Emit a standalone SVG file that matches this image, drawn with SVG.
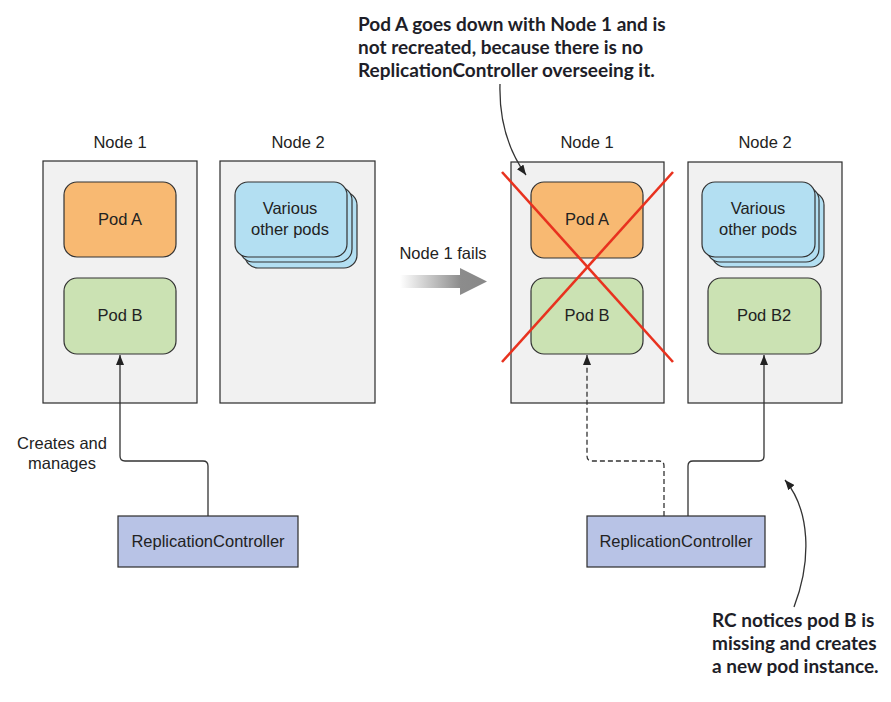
<svg xmlns="http://www.w3.org/2000/svg" width="891" height="702" viewBox="0 0 891 702">
<style>
.node{fill:#f1f1f1;stroke:#2b2b2b;stroke-width:1.2}
.podA{fill:#f8b972;stroke:#333;stroke-width:1.2}
.podB{fill:#cbe2b3;stroke:#333;stroke-width:1.2}
.var{fill:#b3dff2;stroke:#333;stroke-width:1.2}
.rc{fill:#b8c3e6;stroke:#2b2b2b;stroke-width:1.2}
.t{font-family:"Liberation Sans",Arial,sans-serif;font-size:16.5px;fill:#222;text-anchor:middle}
.b{font-family:Lato,"Open Sans",sans-serif;font-weight:bold;font-size:19px;fill:#1e1e28}
.conn{fill:none;stroke:#333;stroke-width:1.3}
.dash{stroke-dasharray:5,3}
.cross{stroke:#e8321f;stroke-width:2.6}
</style>
<defs>
<marker id="ah" markerUnits="userSpaceOnUse" markerWidth="10" markerHeight="8" refX="10" refY="4" orient="auto">
<path d="M0,0 L10,4 L0,8 z" fill="#222"/>
</marker>
<linearGradient id="fade" x1="400" y1="0" x2="487" y2="0" gradientUnits="userSpaceOnUse">
<stop offset="0" stop-color="#ffffff"/>
<stop offset="0.7" stop-color="#8c8c8c"/>
<stop offset="1" stop-color="#888888"/>
</linearGradient>
</defs>

<g id="left-node1">
<text class="t" x="120" y="148">Node 1</text>
<rect class="node" x="43" y="161" width="154" height="242"/>
</g>
<g id="left-node2">
<text class="t" x="298" y="148">Node 2</text>
<rect class="node" x="220" y="161" width="155" height="242"/>
</g>
<g id="left-podA">
<rect class="podA" x="64" y="182" width="112" height="75" rx="13"/>
<text class="t" x="120" y="225">Pod A</text>
</g>
<g id="left-podB">
<rect class="podB" x="64" y="278" width="112" height="76" rx="13"/>
<text class="t" x="120" y="321">Pod B</text>
</g>
<g id="left-various">
<rect class="var" x="245" y="192" width="112" height="76" rx="13"/>
<rect class="var" x="240" y="187" width="112" height="75" rx="13"/>
<rect class="var" x="235" y="182" width="112" height="75" rx="13"/>
<text class="t" x="290" y="214">Various</text>
<text class="t" x="290" y="235">other pods</text>
</g>
<g id="left-rc">
<rect class="rc" x="118" y="516" width="180" height="51"/>
<text class="t" x="208" y="547">ReplicationController</text>
</g>
<g id="label-creates">
<text class="t" x="62" y="449">Creates and</text>
<text class="t" x="62" y="469">manages</text>
</g>

<g id="transition">
<text class="t" x="443" y="259">Node 1 fails</text>
<polygon points="400,275 460,275 460,268 487,281.5 460,295 460,288 400,288" fill="url(#fade)"/>
</g>

<g id="right-node1">
<text class="t" x="587" y="148">Node 1</text>
<rect class="node" x="511" y="162" width="153" height="241"/>
</g>
<g id="right-node2">
<text class="t" x="765" y="148">Node 2</text>
<rect class="node" x="688" y="162" width="154" height="241"/>
</g>
<g id="right-podA">
<rect class="podA" x="531" y="182" width="112" height="76" rx="13"/>
<text class="t" x="587" y="225">Pod A</text>
</g>
<g id="right-podB">
<rect class="podB" x="531" y="278" width="112" height="76" rx="13"/>
<text class="t" x="587" y="321">Pod B</text>
</g>
<g id="right-various">
<rect class="var" x="712" y="192" width="112" height="75" rx="13"/>
<rect class="var" x="707" y="187" width="112" height="75" rx="13"/>
<rect class="var" x="702" y="182" width="113" height="75" rx="13"/>
<text class="t" x="758" y="214">Various</text>
<text class="t" x="758" y="235">other pods</text>
</g>
<g id="right-podB2">
<rect class="podB" x="708" y="278" width="113" height="76" rx="13"/>
<text class="t" x="764" y="321">Pod B2</text>
</g>
<g id="right-rc">
<rect class="rc" x="587" y="516" width="178" height="51"/>
<text class="t" x="676" y="547">ReplicationController</text>
</g>
<g id="cross">
<line class="cross" x1="502" y1="172" x2="673" y2="362"/>
<line class="cross" x1="673" y1="172" x2="502" y2="362"/>
</g>

<g id="connectors">
<path class="conn" d="M208,516 V466 Q208,461 203,461 H125 Q120,461 120,456 V355" marker-end="url(#ah)"/>
<path class="conn dash" d="M664,516 V466 Q664,461 659,461 H592 Q587,461 587,456 V355" marker-end="url(#ah)"/>
<path class="conn" d="M688,516 V466 Q688,461 693,461 H759 Q764,461 764,456 V355" marker-end="url(#ah)"/>
<path class="conn" d="M500,84 C499,120 508,150 526,175" marker-end="url(#ah)"/>
<path class="conn" d="M794,607 C812,560 810,510 785,480" marker-end="url(#ah)"/>
</g>

<g id="note-top">
<text class="b" x="358" y="31">Pod A goes down with Node 1 and is</text>
<text class="b" x="358" y="54">not recreated, because there is no</text>
<text class="b" x="358" y="77">ReplicationController overseeing it.</text>
</g>
<g id="note-bottom">
<text class="b" x="712" y="627">RC notices pod B is</text>
<text class="b" x="712" y="650">missing and creates</text>
<text class="b" x="712" y="673">a new pod instance.</text>
</g>
</svg>
